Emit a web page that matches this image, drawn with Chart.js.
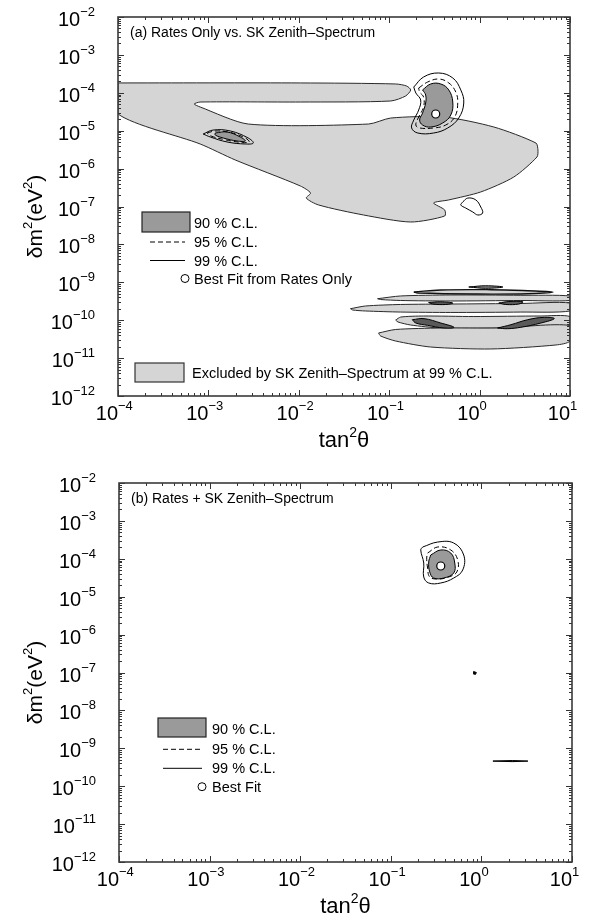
<!DOCTYPE html>
<html>
<head>
<meta charset="utf-8">
<script src="https://cdn.jsdelivr.net/npm/chart.js@4.4.0/dist/chart.umd.min.js"></script>
<style>
  html, body { margin: 0; padding: 0; background: #fff; }
  canvas { display: block; }
</style>
</head>
<body>
<canvas id="panelA" width="594" height="460"></canvas>
<canvas id="panelB" width="594" height="461"></canvas>
<script>
// axes: decades and their exponent labels
const xDecades = [1e-4, 1e-3, 1e-2, 1e-1, 1, 10];
const xExponents = ['\u22124', '\u22123', '\u22122', '\u22121', '0', '1'];
const yDecades = [1e-12, 1e-11, 1e-10, 1e-9, 1e-8, 1e-7, 1e-6, 1e-5, 1e-4, 1e-3, 1e-2];
const yExponents = ['\u221212', '\u221211', '\u221210', '\u22129', '\u22128', '\u22127', '\u22126', '\u22125', '\u22124', '\u22123', '\u22122'];
const minorSteps = [2, 3, 4, 5, 6, 7, 8, 9];

// panel (a): region excluded by SK zenith spectrum (tan^2 theta, dm^2)
const excludedBody = [
  [1e-4, 1.82e-4], [1.04e-2, 1.82e-4], [0.118, 1.71e-4], [0.156, 1.51e-4], [0.173, 1.19e-4],
  [0.152, 8.24e-5], [0.104, 6.08e-5], [1.04e-2, 5.71e-5], [8.11e-4, 5.71e-5], [6.97e-4, 5.06e-5],
  [8.11e-4, 4.22e-5], [2.76e-3, 1.50e-5], [5.92e-2, 1.50e-5], [0.104, 2.16e-5], [0.401, 2.30e-5],
  [1.44, 1.25e-5], [4.20, 4.73e-6], [4.42, 3.10e-6], [4.31, 2.02e-6], [2.39, 6.0e-7],
  [1.03, 2.42e-7], [0.456, 1.49e-7], [0.310, 1.24e-7], [0.411, 8.1e-8], [0.411, 5.61e-8],
  [0.173, 3.90e-8], [5.2e-2, 5.97e-8], [1.65e-2, 1.10e-7], [1.21e-2, 1.67e-7], [1.35e-2, 2.27e-7],
  [1.04e-2, 3.48e-7], [1.98e-3, 1.69e-6], [8.11e-4, 4.46e-6], [1e-4, 2.76e-5], [1e-4, 1.82e-4]
];
const lowTiny = [[0.759, 7.52e-10], [1.17, 8.1e-10], [1.81, 7.52e-10], [1.17, 6.95e-10], [0.759, 7.52e-10]];
const lowBandA = [[0.187, 5.55e-10], [0.372, 6.27e-10], [1.33, 6.38e-10], [3.42, 6.0e-10], [6.49, 5.55e-10],
  [3.42, 5.0e-10], [0.863, 4.91e-10], [0.207, 5.22e-10], [0.187, 5.55e-10]];
const lowBandB = [[7.43e-2, 3.69e-10], [0.134, 4.36e-10], [0.480, 4.63e-10], [2.86, 4.54e-10], [10, 4.36e-10],
  [10, 3.31e-10], [2.86, 3.31e-10], [0.480, 3.21e-10], [0.134, 3.31e-10], [8.04e-2, 3.51e-10], [7.43e-2, 3.69e-10]];
const lowBandC = [[3.73e-2, 2.01e-10], [5.47e-2, 2.37e-10], [0.134, 2.60e-10], [0.480, 2.67e-10], [2.86, 2.76e-10],
  [10, 2.84e-10], [10, 1.75e-10], [2.86, 1.64e-10], [0.480, 1.60e-10], [0.134, 1.64e-10], [5.47e-2, 1.75e-10],
  [3.93e-2, 1.86e-10], [3.73e-2, 2.01e-10]];
const lowBandD = [[0.118, 1.01e-10], [0.134, 1.21e-10], [0.240, 1.29e-10], [0.863, 1.25e-10], [4.77, 1.29e-10],
  [10, 1.25e-10], [10, 6.62e-11], [1.59, 6.22e-11], [0.372, 6.22e-11], [0.173, 7.46e-11], [0.125, 8.97e-11], [0.118, 1.01e-10]];
const lowBandE = [[7.62e-2, 4.59e-11], [0.118, 5.69e-11], [0.372, 6.22e-11], [1.59, 6.22e-11], [10, 7.24e-11],
  [10, 2.82e-11], [7.0, 2.22e-11], [1.33, 1.74e-11], [0.288, 1.96e-11], [0.118, 2.82e-11], [8.04e-2, 3.83e-11], [7.62e-2, 4.59e-11]];

// panel (a): rates-only allowed regions
const lowBlob1 = [[0.180, 1.03e-10], [0.243, 1.10e-10], [0.372, 8.43e-11], [0.521, 6.50e-11], [0.404, 6.22e-11],
  [0.265, 7.33e-11], [0.197, 8.43e-11], [0.180, 1.03e-10]];
const lowBlob2 = [[1.58, 6.22e-11], [2.22, 7.60e-11], [3.40, 1.03e-10], [5.19, 1.19e-10], [6.70, 1.10e-10],
  [4.77, 8.43e-11], [2.86, 6.50e-11], [2.04, 5.97e-11], [1.58, 6.22e-11]];
const lowBlob3 = [[0.273, 2.93e-10], [0.372, 3.06e-10], [0.505, 2.84e-10], [0.422, 2.60e-10], [0.303, 2.67e-10], [0.273, 2.93e-10]];
const lowBlob4 = [[1.63, 2.84e-10], [2.11, 3.11e-10], [3.01, 3.06e-10], [2.72, 2.67e-10], [1.95, 2.60e-10], [1.63, 2.84e-10]];
const lowLoop99 = [[0.652, 1.32e-7], [0.740, 1.67e-7], [0.908, 1.49e-7], [1.03, 9.7e-8], [1.08, 6.73e-8],
  [0.955, 5.97e-8], [0.841, 7.16e-8], [0.703, 9.1e-8], [0.619, 1.10e-7], [0.652, 1.32e-7]];
const lma99A = [[0.187, 1.42e-4], [0.240, 2.61e-4], [0.353, 3.33e-4], [0.505, 2.46e-4], [0.619, 1.19e-4],
  [0.668, 5.38e-5], [0.588, 2.16e-5], [0.444, 1.18e-5], [0.310, 8.69e-6], [0.207, 8.69e-6], [0.177, 1.18e-5],
  [0.187, 1.91e-5], [0.212, 3.52e-5], [0.223, 6.46e-5], [0.197, 9.89e-5], [0.187, 1.42e-4]];
const lma95A = [[0.212, 1.34e-4], [0.267, 1.93e-4], [0.353, 2.31e-4], [0.456, 1.82e-4], [0.545, 1.05e-4],
  [0.573, 5.38e-5], [0.531, 2.30e-5], [0.422, 1.41e-5], [0.310, 1.18e-5], [0.217, 1.18e-5], [0.197, 1.41e-5],
  [0.212, 2.30e-5], [0.240, 4.22e-5], [0.240, 7.74e-5], [0.217, 1.05e-4], [0.212, 1.34e-4]];
const lma90A = [[0.234, 1.19e-4], [0.288, 1.71e-4], [0.372, 1.71e-4], [0.456, 1.19e-4], [0.505, 5.71e-5],
  [0.480, 2.59e-5], [0.391, 1.60e-5], [0.288, 1.25e-5], [0.234, 1.41e-5], [0.217, 1.91e-5], [0.234, 2.93e-5],
  [0.253, 5.38e-5], [0.253, 8.75e-5], [0.234, 1.19e-4]];
const sma99A = [[8.75e-4, 8.18e-6], [1.13e-3, 1.04e-5], [1.75e-3, 9.82e-6], [2.76e-3, 6.41e-6], [3.14e-3, 4.73e-6],
  [2.56e-3, 4.46e-6], [1.61e-3, 5.04e-6], [1.05e-3, 6.82e-6], [8.75e-4, 8.18e-6]];
const sma95A = [[9.7e-4, 8.69e-6], [1.19e-3, 9.82e-6], [1.75e-3, 8.97e-6], [2.56e-3, 6.41e-6], [2.83e-3, 5.04e-6],
  [2.37e-3, 4.89e-6], [1.57e-3, 5.69e-6], [1.07e-3, 7.24e-6], [9.7e-4, 8.69e-6]];
const sma90A = [[1.19e-3, 8.69e-6], [1.61e-3, 9.25e-6], [2.25e-3, 6.82e-6], [2.56e-3, 5.35e-6], [2.08e-3, 5.35e-6],
  [1.46e-3, 6.41e-6], [1.19e-3, 7.71e-6], [1.19e-3, 8.69e-6]];
const bestFitA = [0.327, 2.76e-5];

// panel (b): rates + SK zenith spectrum
const lma99B = [[0.225, 2.05e-4], [0.330, 2.77e-4], [0.495, 2.61e-4], [0.638, 1.26e-4], [0.622, 5.06e-5],
  [0.495, 3.11e-5], [0.356, 2.30e-5], [0.262, 2.30e-5], [0.231, 3.31e-5], [0.231, 7.74e-5], [0.214, 1.71e-4], [0.225, 2.05e-4]];
const lma95B = [[0.255, 1.42e-4], [0.330, 2.05e-4], [0.459, 1.71e-4], [0.548, 9.29e-5], [0.535, 4.49e-5],
  [0.436, 3.31e-5], [0.330, 2.93e-5], [0.269, 3.31e-5], [0.255, 5.71e-5], [0.249, 1.05e-4], [0.255, 1.42e-4]];
const lma90B = [[0.276, 1.26e-4], [0.356, 1.71e-4], [0.459, 1.42e-4], [0.508, 7.74e-5], [0.495, 4.22e-5],
  [0.384, 3.11e-5], [0.297, 3.11e-5], [0.269, 4.49e-5], [0.262, 8.24e-5], [0.276, 1.26e-4]];
const lowDotB = [[0.82, 1.06e-7], [0.88, 1.0e-7], [0.86, 8.9e-8], [0.81, 9.3e-8], [0.82, 1.06e-7]];
const lowLineB = [[1.34, 4.6e-10], [2.2, 4.75e-10], [3.26, 4.6e-10], [2.2, 4.45e-10], [1.34, 4.6e-10]];
const bestFitB = [0.356, 6.46e-5];

const LIGHT = '#d5d5d5';
const DARK = '#9a9a9a';
const FONT = '"Liberation Sans", Arial, sans-serif';

function toXY(points) {
  return points.map(p => ({ x: p[0], y: p[1] }));
}

// one closed contour as a line dataset
function contour(points, style, order) {
  return {
    data: toXY(points),
    fill: style.fill ? 'shape' : false,
    backgroundColor: style.fill || 'transparent',
    borderColor: style.border || '#000',
    borderWidth: style.width || 1,
    borderDash: style.dash || [],
    tension: style.tension !== undefined ? style.tension : 0.4,
    pointRadius: 0,
    order: order
  };
}

function bestFit(p) {
  return {
    data: [{ x: p[0], y: p[1] }],
    showLine: false,
    pointRadius: 4,
    pointBackgroundColor: '#fff',
    pointBorderColor: '#000',
    pointBorderWidth: 1.2,
    order: 0
  };
}

function drawPower(ctx, exp, x, y, rightAligned) {
  ctx.font = '20px ' + FONT;
  const w10 = ctx.measureText('10').width;
  ctx.font = '13px ' + FONT;
  const we = ctx.measureText(exp).width;
  const x0 = rightAligned ? x - w10 - we : x - w10;
  ctx.font = '20px ' + FONT;
  ctx.fillText('10', x0, y);
  ctx.font = '13px ' + FONT;
  ctx.fillText(exp, x0 + w10, y - 10);
}

// frame, inward ticks, axis labels, panel title and legend
const framePlugin = {
  id: 'frame',
  afterDatasetsDraw(chart, args, opts) {
    const { ctx, chartArea: a } = chart;
    const xs = chart.scales.x, ys = chart.scales.y;
    ctx.save();
    ctx.strokeStyle = '#333';
    ctx.lineWidth = 1;
    ctx.beginPath();
    xDecades.forEach((d, i) => {
      const steps = i < xDecades.length - 1 ? [1].concat(minorSteps) : [1];
      steps.forEach(m => {
        const px = Math.round(xs.getPixelForValue(d * m)) + 0.5;
        const len = m === 1 ? 6 : 3;
        ctx.moveTo(px, a.bottom); ctx.lineTo(px, a.bottom - len);
        ctx.moveTo(px, a.top); ctx.lineTo(px, a.top + len);
      });
    });
    yDecades.forEach((d, i) => {
      const steps = i < yDecades.length - 1 ? [1].concat(minorSteps) : [1];
      steps.forEach(m => {
        const py = Math.round(ys.getPixelForValue(d * m)) + 0.5;
        const len = m === 1 ? 6 : 3;
        ctx.moveTo(a.left, py); ctx.lineTo(a.left + len, py);
        ctx.moveTo(a.right, py); ctx.lineTo(a.right - len, py);
      });
    });
    ctx.stroke();
    ctx.lineWidth = 1.6;
    ctx.strokeStyle = '#3a3a3a';
    ctx.strokeRect(a.left, a.top, a.right - a.left, a.bottom - a.top);

    // tick labels
    ctx.fillStyle = '#000';
    ctx.textBaseline = 'alphabetic';
    ctx.textAlign = 'left';
    xDecades.forEach((d, i) => {
      drawPower(ctx, xExponents[i], xs.getPixelForValue(d), a.bottom + 24, false);
    });
    yDecades.forEach((d, i) => {
      drawPower(ctx, yExponents[i], a.left - 23, ys.getPixelForValue(d) + 9, true);
    });

    // x title: tan^2 theta
    ctx.font = '22px ' + FONT;
    const wTan = ctx.measureText('tan').width;
    const wTh = ctx.measureText('\u03b8').width;
    ctx.font = '14px ' + FONT;
    const wSup = ctx.measureText('2').width;
    let tx = (a.left + a.right) / 2 - (wTan + wSup + wTh) / 2;
    const ty = a.bottom + 51;
    ctx.font = '22px ' + FONT;
    ctx.fillText('tan', tx, ty);
    ctx.font = '14px ' + FONT;
    ctx.fillText('2', tx + wTan, ty - 10);
    ctx.font = '22px ' + FONT;
    ctx.fillText('\u03b8', tx + wTan + wSup, ty);

    // y title: dm^2 (eV^2), rotated
    ctx.save();
    ctx.translate(42, (a.top + a.bottom) / 2 + 10);
    ctx.rotate(-Math.PI / 2);
    const parts = [['\u03b4m', false], ['2', true], ['(eV', false], ['2', true], [')', false]];
    let total = 0;
    parts.forEach(p => { ctx.font = (p[1] ? '13px ' : '21px ') + FONT; total += ctx.measureText(p[0]).width; });
    let cx = -total / 2;
    parts.forEach(p => {
      ctx.font = (p[1] ? '13px ' : '21px ') + FONT;
      ctx.fillText(p[0], cx, p[1] ? -10 : 0);
      cx += ctx.measureText(p[0]).width;
    });
    ctx.restore();

    // panel title
    ctx.font = '14px ' + FONT;
    ctx.fillText(opts.title, a.left + 12, a.top + 20);

    // legend
    const lg = opts.legend;
    ctx.font = '14.5px ' + FONT;
    ctx.fillStyle = DARK;
    ctx.fillRect(lg.boxX, lg.boxY, lg.boxW, lg.boxH);
    ctx.strokeStyle = '#222';
    ctx.lineWidth = 1.2;
    ctx.strokeRect(lg.boxX, lg.boxY, lg.boxW, lg.boxH);
    ctx.fillStyle = '#000';
    lg.labels.forEach((t, i) => ctx.fillText(t, lg.textX, lg.rows[i] + 5));
    ctx.lineWidth = 1;
    ctx.strokeStyle = '#000';
    ctx.setLineDash([5, 3]);
    ctx.beginPath(); ctx.moveTo(lg.lineX0, lg.rows[1]); ctx.lineTo(lg.lineX1, lg.rows[1]); ctx.stroke();
    ctx.setLineDash([]);
    ctx.beginPath(); ctx.moveTo(lg.lineX0, lg.rows[2]); ctx.lineTo(lg.lineX1, lg.rows[2]); ctx.stroke();
    ctx.beginPath(); ctx.arc(lg.circleX, lg.rows[3], 4, 0, Math.PI * 2);
    ctx.fillStyle = '#fff'; ctx.fill(); ctx.stroke();

    const ex = opts.excluded;
    if (ex) {
      ctx.fillStyle = LIGHT;
      ctx.fillRect(ex.x, ex.y, ex.w, ex.h);
      ctx.strokeStyle = '#333';
      ctx.lineWidth = 1.2;
      ctx.strokeRect(ex.x, ex.y, ex.w, ex.h);
      ctx.fillStyle = '#000';
      ctx.font = '14.5px ' + FONT;
      ctx.fillText(ex.label, ex.textX, ex.textY + 5);
    }
    ctx.restore();
  }
};

function makeChart(id, datasets, padding, frameOpts) {
  return new Chart(document.getElementById(id).getContext('2d'), {
    type: 'line',
    data: { datasets: datasets },
    options: {
      responsive: false,
      animation: false,
      events: [],
      layout: { padding: padding },
      scales: {
        x: { type: 'logarithmic', min: 1e-4, max: 10, display: false },
        y: { type: 'logarithmic', min: 1e-12, max: 1e-2, display: false }
      },
      plugins: {
        legend: { display: false },
        tooltip: { enabled: false },
        frame: frameOpts
      }
    },
    plugins: [framePlugin]
  });
}

const excludedStyle = { fill: LIGHT, border: '#2a2a2a', tension: 0.25 };
const blobStyle = { fill: '#5a5a5a', border: '#000', tension: 0.4 };
const c90 = { fill: DARK, border: '#000' };
const c95 = { dash: [5, 3] };
const c99 = {};

makeChart('panelA', [
  bestFit(bestFitA),
  contour(lma99A, c99, 1), contour(sma99A, c99, 1), contour(lowLoop99, c99, 1),
  contour(lma95A, c95, 2), contour(sma95A, c95, 2),
  contour(lma90A, c90, 3), contour(sma90A, c90, 3),
  contour(lowBlob1, blobStyle, 4), contour(lowBlob2, blobStyle, 4),
  contour(lowBlob3, blobStyle, 4), contour(lowBlob4, blobStyle, 4),
  contour(excludedBody, excludedStyle, 5),
  contour(lowTiny, { fill: '#888', border: '#000' }, 5),
  contour(lowBandA, { fill: LIGHT, border: '#111', width: 1.4 }, 5),
  contour(lowBandB, excludedStyle, 5), contour(lowBandC, excludedStyle, 5),
  contour(lowBandD, excludedStyle, 6), contour(lowBandE, excludedStyle, 5)
], { left: 118, right: 24, top: 17, bottom: 64 }, {
  title: '(a) Rates Only vs. SK Zenith\u2013Spectrum',
  legend: {
    boxX: 142, boxY: 212, boxW: 48, boxH: 20, textX: 194, rows: [223, 242, 260.5, 278.5],
    lineX0: 150, lineX1: 185, circleX: 185,
    labels: ['90 % C.L.', '95 % C.L.', '99 % C.L.', 'Best Fit from Rates Only']
  },
  excluded: { x: 135, y: 363, w: 49, h: 19, textX: 192, textY: 373,
    label: 'Excluded by SK Zenith\u2013Spectrum at 99 % C.L.' }
});

makeChart('panelB', [
  bestFit(bestFitB),
  contour(lma99B, c99, 1), contour(lowDotB, { fill: '#000', tension: 0 }, 1),
  contour(lowLineB, { fill: '#333', border: '#000', tension: 0 }, 1),
  contour(lma95B, c95, 2),
  contour(lma90B, c90, 3)
], { left: 119, right: 22, top: 23, bottom: 59 }, {
  title: '(b) Rates + SK Zenith\u2013Spectrum',
  legend: {
    boxX: 158, boxY: 258, boxW: 48, boxH: 19, textX: 212, rows: [269.3, 289.3, 308.3, 326.7],
    lineX0: 163, lineX1: 202, circleX: 202,
    labels: ['90 % C.L.', '95 % C.L.', '99 % C.L.', 'Best Fit']
  }
});
</script>
</body>
</html>
